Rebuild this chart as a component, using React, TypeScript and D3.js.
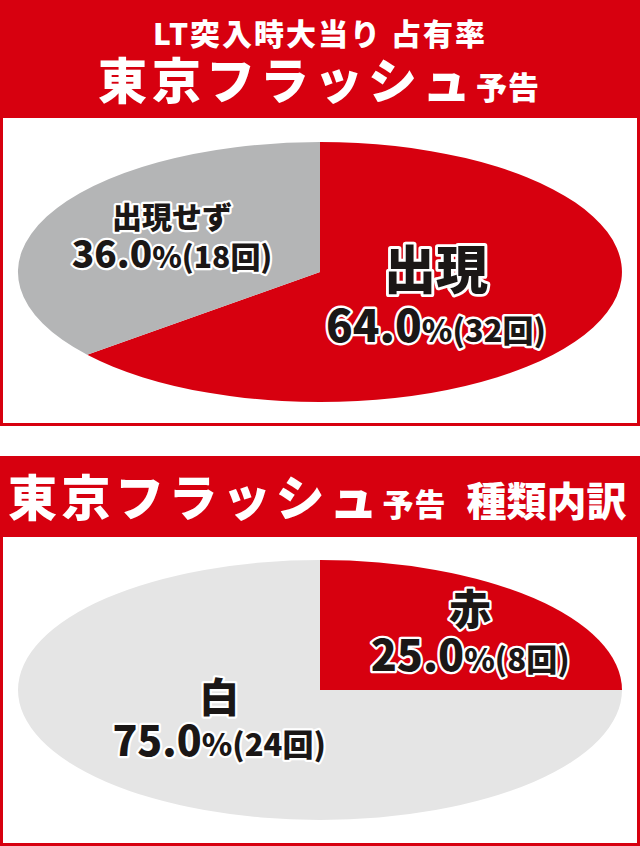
import * as d3 from "d3";

// 東京フラッシュ予告 – LT突入時大当り占有率
const shareLabels = ["出現", "出現せず"];
const shareCounts = [32, 18];
const shareColors = ["#d7000f", "#b4b5b6"];

// 東京フラッシュ予告 種類内訳
const kindLabels = ["赤", "白"];
const kindCounts = [8, 24];
const kindColors = ["#d7000f", "#e5e5e5"];

const RED = "#d7000f";
const INK = "#1b1716";
const FONT = "'Noto Sans CJK JP', 'Noto Sans', sans-serif";

interface LabelStyle {
  pos: [number, number]; // label centre, in unit-ellipse coords
  gap: number;
  title: number;
  main: number;
  small: number;
}

const shareLabelStyle: LabelStyle[] = [
  { pos: [0.384, 0.2], gap: 28, title: 52, main: 44, small: 31 },
  { pos: [-0.49, -0.277], gap: 19, title: 30, main: 37, small: 30 },
];
const kindLabelStyle: LabelStyle[] = [
  { pos: [0.497, -0.446], gap: 23, title: 42, main: 43, small: 31 },
  { pos: [-0.334, 0.223], gap: 22, title: 40, main: 41, small: 31 },
];

const fmt = d3.format(".1f");

function EllipsePie(props: {
  cx: number;
  cy: number;
  rx: number;
  ry: number;
  labels: string[];
  counts: number[];
  colors: string[];
  styles: LabelStyle[];
}) {
  const { cx, cy, rx, ry, labels, counts, colors, styles } = props;
  const total = d3.sum(counts);
  const arcs = d3.pie<number>().sort(null).value((d) => d)(counts);
  const arc = d3.arc<d3.PieArcDatum<number>>().innerRadius(0).outerRadius(1);
  const sx = d3.scaleLinear().domain([-1, 1]).range([cx - rx, cx + rx]);
  const sy = d3.scaleLinear().domain([-1, 1]).range([cy - ry, cy + ry]);

  return (
    <g>
      <g transform={`translate(${cx},${cy}) scale(${rx},${ry})`}>
        {arcs.map((a, i) => (
          <path key={i} d={arc(a) ?? ""} fill={colors[i]} />
        ))}
      </g>
      {arcs.map((a, i) => {
        const s = styles[i];
        const x = sx(s.pos[0]);
        const y = sy(s.pos[1]);
        const pct = fmt((a.data / total) * 100);
        const tStroke = Math.max(4.5, s.title * 0.11);
        const vStroke = Math.max(4.5, s.main * 0.11);
        return (
          <g
            key={`l${i}`}
            fontFamily={FONT}
            fontWeight={900}
            fill={INK}
            stroke="#fff"
            strokeLinejoin="round"
            textAnchor="middle"
            style={{ paintOrder: "stroke" }}
          >
            <text x={x} y={y - s.gap + s.title * 0.37} fontSize={s.title} strokeWidth={tStroke}>
              {labels[i]}
            </text>
            <text x={x} y={y + s.gap + s.main * 0.36} strokeWidth={vStroke}>
              <tspan fontSize={s.main}>{pct}</tspan>
              <tspan fontSize={s.small}>%({a.data}回)</tspan>
            </text>
          </g>
        );
      })}
    </g>
  );
}

export default function App() {
  return (
    <div style={{ position: "absolute", left: 0, top: 0 }}>
      <svg width={640} height={846} viewBox="0 0 640 846" style={{ display: "block" }}>
        <rect x={0} y={0} width={640} height={846} fill="#fff" />

        {/* panel 1 */}
        <rect x={0} y={0} width={640} height={426} fill={RED} />
        <rect x={3} y={118} width={634} height={305} fill="#fff" />
        <g fontFamily={FONT} fontWeight={900} fill="#fff" textAnchor="middle">
          <text x={320} y={45} fontSize={30} letterSpacing={2}>
            LT突入時大当り 占有率
          </text>
          <text x={319} y={99} letterSpacing={5}>
            <tspan fontSize={49}>東京フラッシュ</tspan>
            <tspan fontSize={31} letterSpacing={1}>予告</tspan>
          </text>
        </g>
        <EllipsePie
          cx={320}
          cy={272}
          rx={302}
          ry={130}
          labels={shareLabels}
          counts={shareCounts}
          colors={shareColors}
          styles={shareLabelStyle}
        />

        {/* panel 2 */}
        <rect x={0} y={456} width={640} height={390} fill={RED} />
        <rect x={3} y={537} width={634} height={306} fill="#fff" />
        <g fontFamily={FONT} fontWeight={900} fill="#fff">
          <text x={8} y={516} letterSpacing={4.5}>
            <tspan fontSize={49}>東京フラッシュ</tspan>
            <tspan fontSize={31} letterSpacing={1}>予告</tspan>
            <tspan fontSize={40} dx={20} letterSpacing={0}>
              種類内訳
            </tspan>
          </text>
        </g>
        <EllipsePie
          cx={320}
          cy={690}
          rx={302}
          ry={130}
          labels={kindLabels}
          counts={kindCounts}
          colors={kindColors}
          styles={kindLabelStyle}
        />
      </svg>
    </div>
  );
}
